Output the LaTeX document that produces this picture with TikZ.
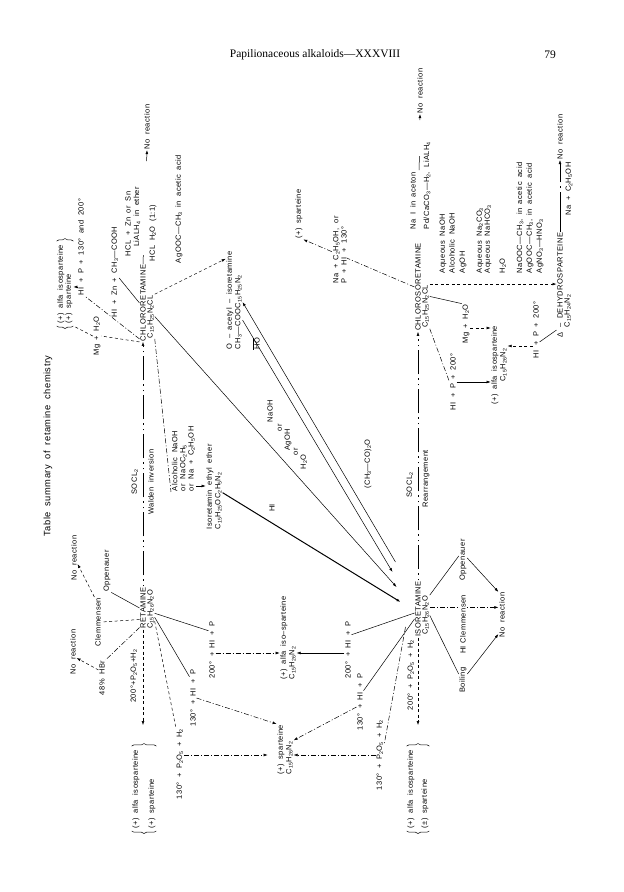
\documentclass[tikz,border=0pt]{standalone}
\usepackage{fontspec}
\setmainfont{Liberation Serif}
\newfontfamily\labfont[LetterSpace=6,WordSpace=1.8]{Liberation Sans}
\usetikzlibrary{arrows.meta,decorations.pathreplacing}
\newcommand{\sbs}[1]{\textsubscript{#1}}

\begin{document}
\begin{tikzpicture}[x=1pt, y=1pt, line width=0.5pt,
  >={Latex[length=4pt,width=2.8pt]},
  lab/.style={font=\labfont\fontsize{7.5}{8.2}\selectfont, inner sep=0.6pt, align=left},
  ttl/.style={font=\labfont\fontsize{9.3}{10}\selectfont},
  ds/.style={dash pattern=on 3pt off 2.5pt},
  dd/.style={dash pattern=on 5pt off 2pt on 1pt off 2pt},
  wal/.style={dash pattern=on 1.5pt off 4pt on 1.5pt off 4pt on 24pt off 4pt},
  brc/.style={decorate, decoration={brace, amplitude=2.5pt}},
  bl/.style={fill=white}]
\path[use as bounding box, fill=white] (0,0) rectangle (624,892);
\node[font=\fontsize{11.5}{12}\selectfont] (head) at (315,837) {Papilionaceous alkaloids—XXXVIII};
\node[font=\fontsize{11.5}{12}\selectfont] (page) at (550,837) {79};

\begin{scope}[shift={(624,0)}, rotate=90, transform shape]
\node[ttl] (title) at (446,576) {Table summary of retamine chemistry};

\node[lab] (ret) at (284,481) {RETAMINE};
\node[lab, anchor=north west] (retF) at (ret.south west) {C\sbs{15}H\sbs{26}N\sbs{2}O};
\node[lab] (chl) at (589,481) {CHLORORETAMINE};
\node[lab, anchor=north west] (chlF) at ([xshift=3pt]chl.south west) {C\sbs{15}H\sbs{25}N\sbs{2}CL};
\node[lab] (iso) at (283,206) {ISORETAMINE};
\node[lab, anchor=north west] (isoF) at ([xshift=2pt]iso.south west) {C\sbs{15}H\sbs{26}N\sbs{2}O};
\node[lab] (chli) at (605,206) {CHLOROSORETAMINE};
\node[lab, anchor=north west] (chliF) at ([xshift=3pt]chli.south west) {C\sbs{15}H\sbs{25}N\sbs{2}CL};
\node[lab] (dehy) at (607,64) {Δ – DEHYDROSPARTEINE};
\node[lab, anchor=north west] (dehyF) at ([xshift=10pt]dehy.south west) {C\sbs{15}H\sbs{24}N\sbs{2}};
\node[lab, anchor=west] (oac) at (542,394) {O – acetyl – isoretamine};
\node[lab, anchor=north west] (oacF) at (oac.south west) {CH\sbs{3}—COOC\sbs{15}H\sbs{25}N\sbs{2}};
\node[lab, anchor=west] (iee) at (362,414) {Isoretamin ethyl ether};
\node[lab, anchor=north west] (ieeF) at (iee.south west) {C\sbs{15}H\sbs{25}OC\sbs{2}H\sbs{5}N\sbs{2}};
\node[lab, anchor=north west] (alc) at (400,453) {Alcoholic NaOH\\or NaOC\sbs{2}H\sbs{5}\\or Na + C\sbs{2}H\sbs{5}OH};

\node[lab, anchor=west] (isA) at (212,340) {(+) alfa iso–sparteine};
\node[lab, anchor=north west] (isAF) at (isA.south west) {C\sbs{15}H\sbs{26}N\sbs{2}};
\node[lab, anchor=west] (spA) at (117,343) {(+) sparteine};
\node[lab, anchor=north west] (spAF) at (spA.south west) {C\sbs{15}H\sbs{26}N\sbs{2}};
\node[lab] (isB) at (527,129) {(+) alfa isosparteine};
\node[lab, anchor=north] (isBF) at (isB.south) {C\sbs{15}H\sbs{26}N\sbs{2}};
\node[lab] (spR) at (678,325) {(+) sparteine};

\node[lab, anchor=west] (grA1) at (63,488) {(+) alfa isosparteine};
\node[lab, anchor=west] (grA2) at (63,472) {(+) sparteine};
\node[lab, anchor=west] (grB1) at (63,213) {(+) alfa isosparteine};
\node[lab, anchor=west] (grB2) at (63,199) {(±) sparteine};
\node[lab, anchor=west] (grC1) at (568,563) {(+) alfa isosparteine};
\node[lab, anchor=west] (grC2) at (568,555) {(+) sparteine};
\draw[brc] ([xshift=-2pt]grA2.south west) -- ([xshift=-2pt]grA1.north west);
\draw[brc] ([xshift=3pt]grA1.north east) -- ([xshift=3pt]grA1.east |- grA2.south);
\draw[brc] ([xshift=-2pt]grB2.south west) -- ([xshift=-2pt]grB1.north west);
\draw[brc] ([xshift=3pt]grB1.north east) -- ([xshift=3pt]grB1.east |- grB2.south);
\draw[brc] ([xshift=-2pt]grC2.south west) -- ([xshift=-2pt]grC1.north west);
\draw[brc] ([xshift=3pt]grC1.north east) -- ([xshift=3pt]grC1.east |- grC2.south);

\node[lab] (hbr) at (214,522) {48\% HBr};
\node[lab] (clA) at (270,526) {Clemmensen};
\node[lab] (opA) at (321,517) {Oppenauer};
\node[lab] (noA1) at (240,551) {No reaction};
\node[lab] (noA2) at (334,550) {No reaction};
\draw[dd] ([xshift=2pt]ret.north west) -- (hbr.south east);
\draw[ds] ([xshift=10pt]ret.north west) -- (clA.south);
\draw (ret.north) -- (opA.south west);
\draw[ds,->] ([xshift=8pt]hbr.north) -- ([xshift=-6pt]noA1.south);
\draw[ds,->] (clA.north east) -- ([xshift=-6pt]noA2.south);

\node[lab] (p200A) at (216,490) {200°+P\sbs{2}O\sbs{5}+H\sbs{2}};
\coordinate (grAin) at ([xshift=24pt]grA1.south east |- ret.west);
\draw[ds,->] (ret.west) -- (grAin);
\node[lab] (socA) at (410,489) {SOCL\sbs{2}};
\node[lab] (walA) at (410,473) {Walden inversion};
\draw[wal,->] (ret.east) -- (chl.west);

\node[lab] (hpA) at (242,412) {200° + HI + P};
\node[lab] (hiA) at (194,431) {130° + HI + P};
\node[lab] (pA) at (128,444) {130° + P\sbs{2}O\sbs{5} + H\sbs{2}};
\draw ([xshift=-4pt]retF.south) -- ([xshift=-10pt]hpA.north east);
\draw ([xshift=-8pt]retF.south) -- ([xshift=-8pt]hiA.north east);
\draw[ds] ([xshift=-12pt]retF.south) -- (pA.north east);
\draw[dd,->] ([xshift=-3pt]hpA.south) -- ([xshift=-3pt]hpA.south |- isA.north);
\draw[dd,->] (hiA.south) -- (spA.north east);
\draw[dd,->] ([xshift=9pt]pA.south) -- ([xshift=9pt,yshift=9pt]pA.south |- spA.north);

\node[lab] (mgA) at (556,527) {Mg + H\sbs{2}O};
\node[lab] (hzA) at (620,509) {HI + Zn + CH\sbs{3}—COOH};
\node[lab] (hpA1) at (645,543) {HI + P + 130° and 200°};
\draw[ds] (chl.north west) -- (mgA.south);
\draw[dd] ([xshift=3pt]chl.north west) -- (hpA1.south west);
\draw (chl.north) -- ([xshift=-6pt]hzA.south);
\draw[ds] (mgA.north) -- ([xshift=-2pt]grC2.south west);
\draw[->] ([xshift=9pt]hpA1.north west) -- ([xshift=9pt]hpA1.north west |- grC2.south);
\node[lab] (hcA) at (668,496) {HCL + Zn or Sn};
\node[lab] (liA) at (675,487) {LiALH\sbs{4} in ether};
\node[lab] (hwA) at (659,471) {HCL H\sbs{2}O (1:1)};
\node[lab] (noA3) at (765,477) {No reaction};
\draw[dash pattern=on 9pt off 94pt on 20pt,->] (chl.east) -- (noA3.west);
\node[lab] (agA) at (683,445) {AgOOC—CH\sbs{3} in acetic acid};
\draw[ds,->] (chlF.south east) -- ([xshift=-8pt]oac.north east);

\coordinate (isoHI) at ([xshift=7pt,yshift=14pt]iso.north);
\coordinate (isoNa) at ([xshift=22pt,yshift=18pt]iso.north);
\coordinate (isoHO) at ([xshift=37pt,yshift=22pt]iso.north);
\coordinate (isoAc) at ([xshift=47pt,yshift=19pt]iso.north);
\draw[->] ([xshift=-8pt]oacF.south) -- (isoHO);
\draw[->] (isoAc) -- ([xshift=10pt]oacF.south);
\node[lab] (ho) at (548,368) {\ensuremath{\overline{\mbox{HO}}}};
\node[lab] (acan) at (428,256) {(CH\sbs{3}—CO)\sbs{2}O};

\draw[dd] (chlF.south west) -- (alc.north west);
\draw[->] ([xshift=6pt]alc.south west) -- ([xshift=6pt]alc.south west |- iee.north);
\draw[line width=1pt,->] ([xshift=8pt]ieeF.south) -- (isoHI);
\node[lab] (hiL) at (384,352) {HI};
\draw[->] (chlF.south) -- (isoNa);
\node[lab] (naoh) at (481,354) {NaOH};
\node[lab] (or1) at (464,344) {or};
\node[lab] (agoh) at (452,336) {AgOH};
\node[lab] (or2) at (440,328) {or};
\node[lab] (h2o) at (430,320) {H\sbs{2}O};

\node[lab] (p200B) at (217,213) {200° + P\sbs{2}O\sbs{5} + H\sbs{2}};
\coordinate (grBin) at ([xshift=24pt]grB1.south east |- iso.west);
\draw[ds,->] (iso.west) -- (grBin);
\node[lab] (socB) at (407,214) {SOCL\sbs{2}};
\node[lab] (reaB) at (413,198) {Rearrangement};
\draw[wal,->] (iso.east) -- (chli.west);
\node[lab, anchor=west] (naiB) at (662,211) {Na I in aceton};
\node[lab, anchor=west] (pdB) at (662,197) {Pd/CaCO\sbs{3}—H\sbs{2}, LiALH\sbs{4}};
\node[lab] (noB3) at (801,204) {No reaction};
\draw[dash pattern=on 0pt off 72pt on 14pt off 36pt on 20pt,->] (chli.east) -- (noB3.west);

\node[lab] (boil) at (212,161) {Boiling};
\node[lab] (hiB) at (242,161) {HI};
\node[lab] (opB) at (332,161) {Oppenauer};
\node[lab] (noB) at (277,122) {No reaction};
\draw (isoF.south) -- ([xshift=6pt]boil.north);
\draw[->] ([xshift=6pt]boil.south) -- ([xshift=4pt]noB.north west);
\draw (isoF.south east) -- ([xshift=4pt]opB.north);
\draw[->] ([xshift=2pt]opB.south) -- (noB.north east);
\draw[dd,->] ([xshift=8pt]isoF.south) -- ([xshift=8pt]isoF.south |- noB.north);
\node[lab, bl] (clB) at (273,161) {Clemmensen};

\node[lab] (hpB) at (242,276) {200° + HI + P};
\node[lab] (hiB2) at (190,264) {130° + HI + P};
\node[lab] (pB) at (137,244) {130° + P\sbs{2}O\sbs{5} + H\sbs{2}};
\draw ([xshift=-4pt]iso.north) -- ([xshift=-14pt]hpB.south east);
\draw ([xshift=-10pt]iso.north) -- ([xshift=-18pt]hiB2.south east);
\draw[dd] ([xshift=-18pt,yshift=9pt]iso.north) -- ([xshift=10pt]pB.south);
\draw[->] ([xshift=-3pt]hpB.north) -- ([xshift=-3pt]hpB.north |- isAF.south);
\draw[dd,->] ([xshift=-5pt]hiB2.north) -- (spAF.south east);
\draw[dd,->] (pB.north) -- (pB.north |- spAF.south);

\node[lab] (mgB) at (568,158) {Mg + H\sbs{2}O};
\node[lab] (hpB1) at (510,171) {HI + P + 200°};
\node[lab] (hpB2) at (562,88) {HI + P + 200°};
\draw ([xshift=10pt]chliF.south) -- (mgB.north east);
\draw[dd] (chliF.south west) -- (hpB1.north);
\draw[ds,->] ([xshift=-4pt]mgB.south) -- ([xshift=-4pt]mgB.south |- isB.north);
\draw[->] (hpB1.south) -- (hpB1.south |- isB.north);
\draw ([xshift=8pt]dehy.north west) -- ([xshift=-12pt]hpB2.south);
\draw[ds,->] ([xshift=-16pt]hpB2.north) -- ([xshift=-16pt]hpB2.north |- isBF.south);

\foreach \v/\t [count=\i] in {181/{Aqueous NaOH}, 172/{Alcoholic NaOH}, 161/{AgOH},
    144/{Aqueous Na\sbs{2}CO\sbs{3}}, 136/{Aqueous NaHCO\sbs{3}}, 121/{H\sbs{2}O},
    104/{NaOOC—CH\sbs{3}, in acetic acid}, 94/{AgOOC—CH\sbs{3}, in acetic acid},
    84/{AgNO\sbs{3}—HNO\sbs{3}}}
  \node[lab, anchor=west] (aq\i) at (618,\v) {\t};
\draw[ds,->] (chliF.south east) -- (chliF.south east |- dehy.north);

\node[lab] (naD) at (703,55) {Na + C\sbs{2}H\sbs{5}OH};
\node[lab] (noD) at (755,64) {No reaction};
\draw[dash pattern=on 40pt off 4pt on 1.5pt off 4pt on 30pt,->] (dehy.east) -- (noD.west);

\draw[dd,->] (chli.north) -- (spR.south west);
\node[lab, bl] (naR) at (642,284) {Na + C\sbs{2}H\sbs{5}OH, or\\P + HI + 130°};
\end{scope}
\end{tikzpicture}
\end{document}
